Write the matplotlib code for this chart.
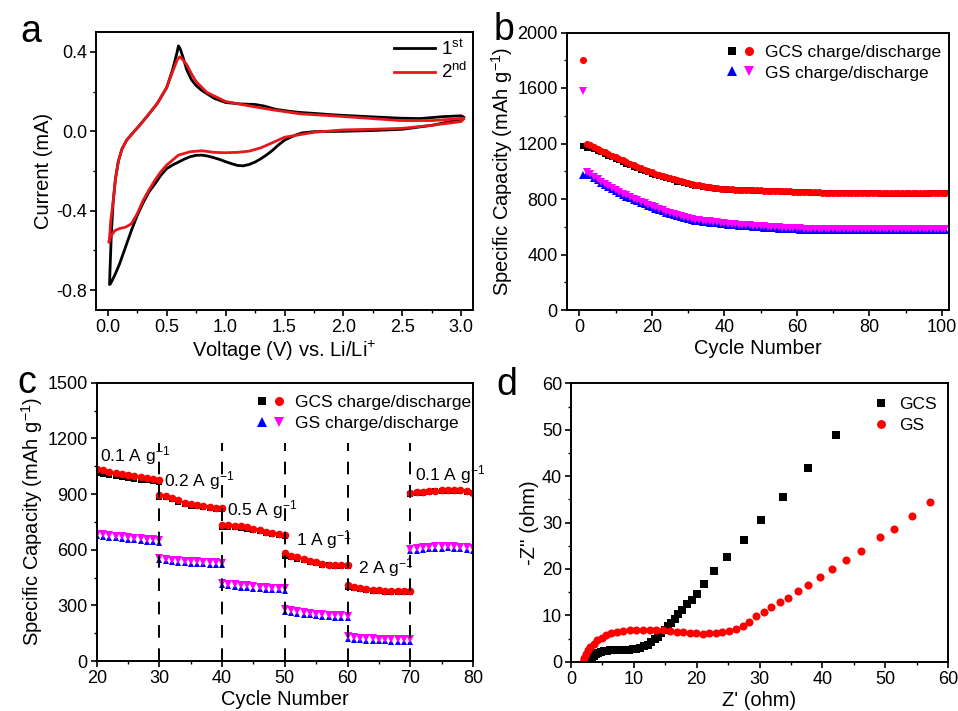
import numpy as np
import matplotlib
matplotlib.use('Agg')
import matplotlib.pyplot as plt
from matplotlib.ticker import MultipleLocator, FormatStrFormatter
from matplotlib.legend_handler import HandlerTuple
from matplotlib.lines import Line2D

plt.rcParams['font.family'] = ['Liberation Sans', 'DejaVu Sans']
plt.rcParams['mathtext.fontset'] = 'custom'
plt.rcParams['mathtext.rm'] = 'Liberation Sans'
plt.rcParams['mathtext.it'] = 'Liberation Sans'
plt.rcParams['mathtext.bf'] = 'Liberation Sans:bold'

# ---------------- data: panel a (CV) ----------------
cv1_v = [3.02, 3.00, 2.75, 2.50, 2.25, 2.00, 1.75, 1.65, 1.60, 1.55, 1.50, 1.45, 1.40, 1.35, 1.30,
         1.25, 1.20, 1.15, 1.10, 1.05, 1.00, 0.95, 0.90, 0.85, 0.80, 0.75, 0.70, 0.65, 0.60, 0.55,
         0.50, 0.45, 0.40, 0.35, 0.30, 0.25, 0.20, 0.15, 0.10, 0.07, 0.05, 0.03, 0.02, 0.015,
         0.02, 0.03, 0.045, 0.065, 0.09, 0.12, 0.16, 0.21, 0.27, 0.34, 0.42, 0.50, 0.55, 0.585, 0.60,
         0.615, 0.64, 0.67, 0.71, 0.75, 0.80, 0.90, 1.00, 1.12, 1.25, 1.32, 1.43, 1.55, 1.63, 1.80,
         1.91, 2.20, 2.48, 2.65, 2.85, 3.00, 3.02]
cv1_i = [0.070, 0.060, 0.030, 0.010, 0.004, 0.000, -0.002, -0.008, -0.018, -0.030, -0.045, -0.068,
         -0.095, -0.118, -0.138, -0.155, -0.167, -0.174, -0.172, -0.163, -0.153, -0.142, -0.133,
         -0.125, -0.120, -0.121, -0.128, -0.140, -0.155, -0.170, -0.188, -0.222, -0.265, -0.305,
         -0.360, -0.424, -0.500, -0.584, -0.668, -0.710, -0.736, -0.760, -0.770, -0.772,
         -0.680, -0.520, -0.360, -0.240, -0.150, -0.090, -0.045, -0.010, 0.030, 0.080, 0.140, 0.220,
         0.310, 0.390, 0.430, 0.415, 0.370, 0.310, 0.260, 0.230, 0.205, 0.167, 0.145, 0.138, 0.135,
         0.128, 0.110, 0.100, 0.095, 0.088, 0.083, 0.074, 0.066, 0.064, 0.074, 0.078, 0.070]
cv2_v = [3.02, 3.00, 2.75, 2.50, 2.25, 2.00, 1.75, 1.60, 1.50, 1.40, 1.30, 1.20, 1.10, 1.00, 0.90,
         0.80, 0.70, 0.60, 0.50, 0.45, 0.40, 0.35, 0.30, 0.25, 0.20, 0.15, 0.10, 0.06, 0.03, 0.015,
         0.01, 0.015, 0.025, 0.045, 0.065, 0.09, 0.12, 0.16, 0.21, 0.27, 0.34, 0.42, 0.50, 0.55, 0.59,
         0.61, 0.63, 0.67, 0.71, 0.75, 0.84, 1.00, 1.20, 1.40, 1.63, 1.91, 2.20, 2.48, 2.76, 2.95, 3.02]
cv2_i = [0.062, 0.049, 0.030, 0.015, 0.010, 0.007, -0.005, -0.020, -0.030, -0.057, -0.083, -0.100,
         -0.106, -0.108, -0.106, -0.098, -0.103, -0.120, -0.170, -0.204, -0.246, -0.295, -0.348,
         -0.415, -0.466, -0.483, -0.490, -0.500, -0.525, -0.545, -0.560,
         -0.540, -0.450, -0.360, -0.240, -0.150, -0.090, -0.045, -0.010, 0.030, 0.080, 0.140, 0.220,
         0.300, 0.360, 0.375, 0.365, 0.336, 0.290, 0.250, 0.196, 0.150, 0.128, 0.108, 0.088, 0.078,
         0.066, 0.054, 0.054, 0.062, 0.066]

# ---------------- data: panel b (cycling) ----------------
b_gcs_charge = [1180, 1170, 1168, 1158, 1147, 1136, 1124, 1113, 1101, 1090, 1079, 1067, 1055, 1044,
                1032, 1021, 1011, 1001, 992, 983, 974, 965, 957, 949, 941, 934, 926, 919, 913, 907,
                902, 897, 892, 888, 884, 880, 877, 874, 871, 869, 867, 866, 865, 864, 864, 863, 862,
                861, 860, 859, 858, 858, 857, 856, 855, 854, 853, 852, 851, 850, 849, 848, 847, 846,
                846, 845, 844, 843, 843, 842, 842, 841, 841, 841, 840, 840, 840, 840, 840, 840, 840,
                840, 839, 839, 839, 839, 839, 839, 838, 838, 838, 838, 838, 839, 839, 839, 840, 840,
                840, 841, 841]
b_gcs_discharge = [1805, 1200, 1186, 1172, 1160, 1148, 1136, 1124, 1112, 1101, 1090, 1078, 1066, 1054,
                   1042, 1031, 1021, 1011, 1001, 992, 983, 974, 965, 957, 949, 941, 934, 927, 920, 914,
                   908, 903, 898, 893, 889, 885, 881, 878, 875, 872, 870, 869, 868, 867, 866, 866, 865,
                   864, 863, 862, 861, 860, 860, 859, 858, 857, 856, 855, 854, 853, 852, 851, 850, 849,
                   848, 847, 846, 845, 845, 844, 844, 843, 843, 843, 842, 842, 842, 842, 842, 842, 842,
                   842, 841, 841, 841, 841, 841, 841, 840, 840, 840, 840, 840, 841, 841, 841, 842, 842,
                   842, 843, 843]
b_gs_charge = [975, 982, 970, 953, 935, 917, 900, 884, 869, 855, 842, 829, 817, 805, 794, 783, 772, 761,
               751, 741, 731, 720, 710, 700, 691, 682, 674, 667, 660, 654, 649, 644, 640, 636, 633, 630,
               627, 624, 621, 618, 615, 613, 610, 608, 606, 604, 602, 600, 598, 596, 594, 592, 590, 589,
               587, 586, 584, 583, 582, 581, 580, 579, 579, 578, 578, 577, 577, 577, 576, 576, 576, 575,
               575, 575, 575, 574, 574, 574, 574, 574, 573, 573, 573, 573, 573, 573, 573, 573, 573, 573,
               573, 573, 573, 574, 574, 574, 574, 575, 575, 575, 575]
b_gs_discharge = [1580, 992, 980, 962, 944, 926, 909, 893, 878, 864, 851, 838, 826, 814, 803, 792, 781,
                  770, 760, 750, 739, 728, 718, 708, 699, 690, 682, 675, 668, 662, 657, 652, 648, 644,
                  641, 638, 635, 632, 629, 626, 623, 621, 618, 616, 614, 612, 610, 608, 606, 604, 602,
                  600, 598, 597, 595, 594, 592, 591, 590, 589, 588, 587, 587, 586, 586, 585, 585, 585,
                  584, 584, 584, 583, 583, 583, 583, 582, 582, 582, 582, 582, 581, 581, 581, 581, 581,
                  581, 581, 581, 581, 581, 581, 581, 581, 582, 582, 582, 582, 583, 583, 583, 583]

# ---------------- data: panel c (rate) ----------------
rate_seg_start = [20, 30, 40, 50, 60, 70]
rate_labels = ['0.1 A g$^{-1}$', '0.2 A g$^{-1}$', '0.5 A g$^{-1}$', '1 A g$^{-1}$',
               '2 A g$^{-1}$', '0.1 A g$^{-1}$']
c_gcs_discharge = [
    [1033, 1027, 1021, 1015, 1009, 1003, 997, 991, 986, 980, 975],
    [895, 892, 880, 866, 853, 845, 839, 835, 831, 827, 824],
    [735, 733, 730, 727, 721, 714, 705, 697, 690, 685, 680],
    [580, 566, 558, 550, 540, 531, 525, 520, 518, 516, 515],
    [412, 399, 391, 386, 383, 380, 378, 377, 376, 375, 375],
    [906, 910, 913, 916, 918, 920, 921, 922, 920, 915, 908]]
c_gcs_charge = [
    [1012, 1008, 1003, 998, 993, 988, 983, 978, 973, 968, 963],
    [885, 882, 872, 858, 846, 838, 833, 829, 825, 821, 818],
    [722, 723, 722, 719, 713, 706, 698, 690, 684, 679, 674],
    [568, 558, 551, 543, 534, 526, 520, 516, 513, 511, 510],
    [400, 392, 386, 382, 379, 376, 374, 373, 372, 371, 371],
    [898, 905, 908, 911, 914, 916, 917, 917, 915, 911, 904]]
c_gs_discharge = [
    [686, 682, 679, 675, 672, 668, 665, 661, 658, 655, 652],
    [556, 551, 547, 544, 541, 539, 537, 535, 533, 531, 530],
    [421, 417, 413, 410, 407, 404, 401, 398, 396, 394, 392],
    [279, 273, 268, 264, 260, 256, 253, 250, 248, 246, 244],
    [133, 129, 126, 124, 122, 121, 120, 119, 118, 117, 116],
    [606, 609, 612, 615, 618, 620, 621, 620, 617, 613, 607]]
c_gs_charge = [
    [672, 668, 665, 661, 658, 654, 651, 647, 644, 641, 638],
    [542, 537, 533, 530, 527, 525, 523, 521, 519, 517, 516],
    [407, 403, 399, 396, 393, 390, 387, 384, 382, 380, 378],
    [265, 259, 254, 250, 246, 242, 239, 236, 234, 232, 230],
    [119, 115, 112, 110, 108, 107, 106, 105, 104, 103, 102],
    [592, 595, 598, 601, 604, 606, 607, 606, 603, 599, 593]]
rate_label_x = [20.5, 30.8, 40.7, 51.7, 61.7, 70.7]
rate_label_y = [1105, 972, 814, 652, 503, 1007]

# ---------------- data: panel d (EIS) ----------------
gcs_zre = [2.9, 3.1, 3.3, 3.6, 3.9, 4.3, 4.7, 5.2, 5.7, 6.2, 6.8, 7.4, 8.0, 8.6, 9.2, 9.8, 10.4, 11.0,
           11.6, 12.2, 12.8, 13.4, 13.9, 14.4, 14.9, 15.4, 15.9, 16.5, 17.1, 17.7, 18.5, 19.2, 20.0,
           21.1, 22.7, 24.8, 27.5, 30.3, 33.8, 37.7, 42.2]
gcs_zim = [0.0, 0.5, 0.9, 1.3, 1.6, 1.9, 2.1, 2.3, 2.4, 2.5, 2.5, 2.6, 2.6, 2.6, 2.6, 2.7, 2.8, 3.0,
           3.3, 3.7, 4.2, 4.8, 5.4, 6.1, 6.9, 7.6, 8.3, 9.3, 10.3, 11.2, 12.4, 13.4, 14.6,
           16.7, 19.5, 22.5, 26.2, 30.5, 35.6, 41.7, 48.8]
gs_zre = [1.9, 2.1, 2.4, 2.7, 3.1, 3.6, 4.2, 4.9, 5.6, 6.4, 7.3, 8.3, 9.4, 10.4, 11.5, 12.6, 13.6, 14.7,
          15.7, 16.8, 17.8, 18.9, 19.9, 21.0, 22.0, 23.1, 24.1, 25.2, 26.2, 27.3, 28.4, 29.5, 30.7,
          31.9, 33.2, 34.6, 36.1, 37.7, 39.6, 41.5, 43.8, 46.2, 49.1, 51.4, 54.3, 57.2]
gs_zim = [0.0, 0.8, 1.7, 2.5, 3.2, 3.9, 4.6, 5.2, 5.7, 6.1, 6.4, 6.6, 6.8, 6.85, 6.9, 6.9, 6.9, 6.85,
          6.7, 6.5, 6.35, 6.2, 6.1, 6.05, 6.1, 6.2, 6.4, 6.7, 7.1, 7.7, 8.6, 9.8, 10.8,
          11.7, 12.8, 13.8, 15.2, 16.5, 18.2, 19.9, 21.9, 23.9, 26.8, 28.7, 31.5, 34.4]

# ---------------- figure ----------------
fig = plt.figure(figsize=(9.58, 7.11), dpi=100)
W, H = 958.0, 711.0


def make_ax(l, t, r, b):
    return fig.add_axes([l / W, 1 - b / H, (r - l) / W, (b - t) / H])


TICK_FS = 13
LAB_FS = 14.5
LEG_FS = 12.5


def style(ax, xmaj, xmin, ymaj, ymin):
    for s in ax.spines.values():
        s.set_linewidth(1.4)
    ax.xaxis.set_major_locator(MultipleLocator(xmaj))
    ax.xaxis.set_minor_locator(MultipleLocator(xmin))
    ax.yaxis.set_major_locator(MultipleLocator(ymaj))
    ax.yaxis.set_minor_locator(MultipleLocator(ymin))
    ax.tick_params(which='major', direction='out', length=4.5, width=1.2, labelsize=TICK_FS, pad=2)
    ax.tick_params(which='minor', direction='out', length=2.5, width=1.0)


# panel a
axa = make_ax(96, 32, 473, 310)
axa.plot(cv1_v, cv1_i, color='black', lw=2.0, label=r'1$^{\mathrm{st}}$')
axa.plot(cv2_v, cv2_i, color='#e8171b', lw=2.0, label=r'2$^{\mathrm{nd}}$')
axa.set_xlim(-0.1, 3.1)
axa.set_ylim(-0.9, 0.5)
style(axa, 0.5, 0.25, 0.4, 0.2)
axa.xaxis.set_major_formatter(FormatStrFormatter('%.1f'))
axa.yaxis.set_major_formatter(FormatStrFormatter('%.1f'))
axa.set_xlabel('Voltage (V) vs. Li/Li$^{+}$', fontsize=LAB_FS, labelpad=2)
axa.set_ylabel('Current (mA)', fontsize=LAB_FS, labelpad=2)
axa.legend(loc='upper left', bbox_to_anchor=(0.79, 0.975), frameon=False, fontsize=13.5,
           handlelength=2.2, handletextpad=0.3, labelspacing=0.2, borderpad=0, borderaxespad=0)

# panel b
axb = make_ax(566.7, 32.5, 949, 310)
cyc = np.arange(1, len(b_gcs_charge) + 1)
ms_b = 4.5
axb.plot(cyc, b_gcs_charge, 's', color='black', ms=ms_b, mew=0)
axb.plot(cyc, b_gcs_discharge, 'o', color='#ff0000', ms=ms_b + 0.6, mew=0)
axb.plot(cyc, b_gs_charge, '^', color='#0000ff', ms=ms_b + 0.6, mew=0)
axb.plot(cyc, b_gs_discharge, 'v', color='#ff00ff', ms=ms_b + 0.6, mew=0)
axb.set_xlim(-3.5, 102)
axb.set_ylim(0, 2000)
style(axb, 20, 10, 400, 200)
axb.set_xlabel('Cycle Number', fontsize=LAB_FS, labelpad=2)
axb.set_ylabel('Specific Capacity (mAh g$^{-1}$)', fontsize=LAB_FS, labelpad=2)
hb1 = (Line2D([], [], ls='', marker='s', color='black', ms=5.5, mew=0),
       Line2D([], [], ls='', marker='o', color='#ff0000', ms=6.5, mew=0))
hb2 = (Line2D([], [], ls='', marker='^', color='#0000ff', ms=6.5, mew=0),
       Line2D([], [], ls='', marker='v', color='#ff00ff', ms=6.5, mew=0))
axb.legend([hb1, hb2], ['GCS charge/discharge', 'GS charge/discharge'],
           handler_map={tuple: HandlerTuple(ndivide=None, pad=0)},
           loc='upper left', bbox_to_anchor=(0.41, 0.955), frameon=False, fontsize=LEG_FS,
           handlelength=2.0, handletextpad=0.4, labelspacing=0.3, borderpad=0, borderaxespad=0)

# panel c
axc = make_ax(96.7, 382.7, 473, 661)
ms_c = 5.0
for k, s0 in enumerate(rate_seg_start):
    xs = s0 + np.arange(len(c_gcs_charge[k]))
    axc.plot(xs, c_gcs_charge[k], 's', color='black', ms=ms_c - 0.5, mew=0)
    axc.plot(xs, c_gcs_discharge[k], 'o', color='#ff0000', ms=ms_c + 0.5, mew=0)
    axc.plot(xs, c_gs_charge[k], '^', color='#0000ff', ms=ms_c, mew=0)
    axc.plot(xs, c_gs_discharge[k], 'v', color='#ff00ff', ms=ms_c + 0.5, mew=0)
axc.vlines(rate_seg_start[1:], 0, 1175, colors='black', linestyles=(0, (6.5, 5.5)), lw=1.4)
for lx, ly, lt in zip(rate_label_x, rate_label_y, rate_labels):
    axc.text(lx, ly, lt, fontsize=12.5, ha='left', va='center')
axc.set_xlim(20, 80)
axc.set_ylim(0, 1500)
style(axc, 10, 5, 300, 150)
axc.set_xlabel('Cycle Number', fontsize=LAB_FS, labelpad=2)
axc.set_ylabel('Specific Capacity (mAh g$^{-1}$)', fontsize=LAB_FS, labelpad=2)
axc.legend([hb1, hb2], ['GCS charge/discharge', 'GS charge/discharge'],
           handler_map={tuple: HandlerTuple(ndivide=None, pad=0)},
           loc='upper left', bbox_to_anchor=(0.415, 0.955), frameon=False, fontsize=LEG_FS,
           handlelength=2.0, handletextpad=0.4, labelspacing=0.3, borderpad=0, borderaxespad=0)

# panel d
axd = make_ax(571, 383.3, 948, 661.7)
axd.plot(gcs_zre, gcs_zim, 's', color='black', ms=5.2, mew=0, label='GCS')
axd.plot(gs_zre, gs_zim, 'o', color='#ff0000', ms=5.8, mew=0, label='GS')
axd.set_xlim(0, 60)
axd.set_ylim(0, 60)
style(axd, 10, 5, 10, 5)
axd.set_xlabel("Z' (ohm)", fontsize=LAB_FS, labelpad=2)
axd.set_ylabel("-Z'' (ohm)", fontsize=LAB_FS, labelpad=2)
axd.legend(loc='upper left', bbox_to_anchor=(0.80, 0.95), frameon=False, fontsize=LEG_FS,
           handlelength=1.0, handletextpad=0.5, labelspacing=0.3, borderpad=0, borderaxespad=0,
           markerscale=1.1)

# panel letters
for lbl, x, y in [('a', 20, 42), ('b', 494, 40), ('c', 17, 393), ('d', 496, 395)]:
    fig.text(x / W, 1 - y / H, lbl, fontsize=27, ha='left', va='baseline')

fig.savefig('out.png', dpi=100)
